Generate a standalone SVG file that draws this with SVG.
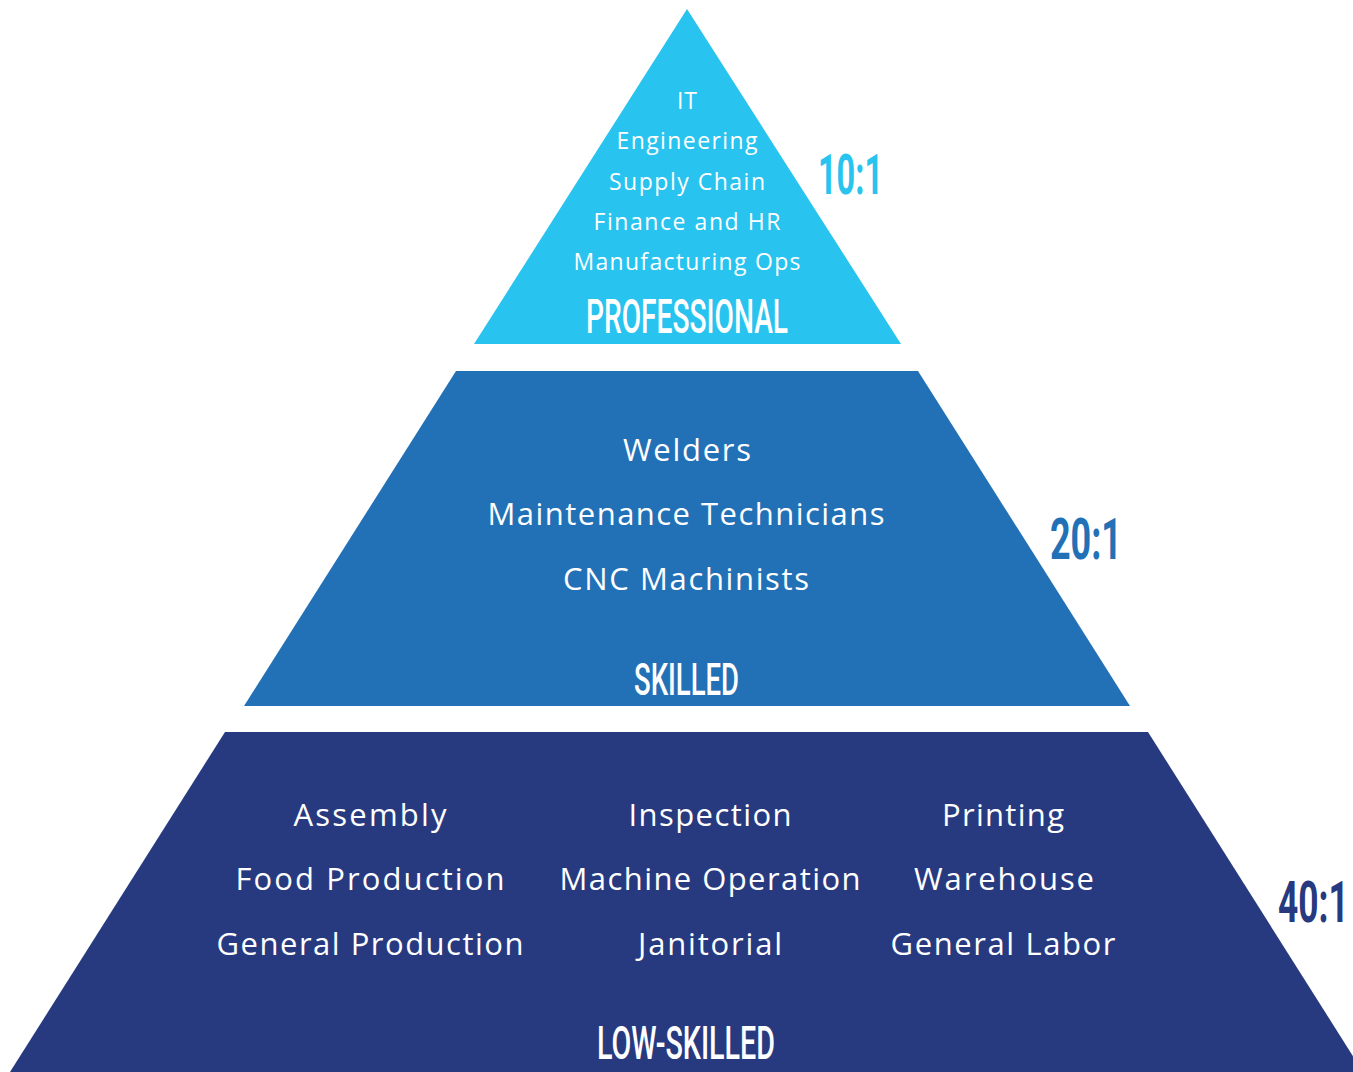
<svg xmlns="http://www.w3.org/2000/svg" width="1353" height="1072" viewBox="0 0 1353 1072">
  <style>
    .item { font-family: "Open Sans", "Noto Sans", "DejaVu Sans", sans-serif; fill: #ffffff; text-anchor: middle; }
    .item-sm { font-size: 23px; }
    .item-lg { font-size: 31px; }
    .head { font-family: "Roboto", "Liberation Sans", sans-serif; font-weight: 500; fill: #ffffff; }
    .ratio { font-family: "Roboto", "Liberation Sans", sans-serif; font-weight: 700; }
    .pro { fill: #28C3EF; }
    .skl { fill: #2271B7; }
    .low { fill: #273A80; }
  </style>

  <rect width="1353" height="1072" fill="#ffffff"/>

  <!-- Top tier -->
  <g id="tier-professional">
    <polygon class="pro" points="687,9 901,344 474,344"/>
    <text class="item item-sm" x="687" y="109" textLength="20" lengthAdjust="spacing">IT</text>
    <text class="item item-sm" x="687" y="149" textLength="141" lengthAdjust="spacing">Engineering</text>
    <text class="item item-sm" x="687" y="190" textLength="156" lengthAdjust="spacing">Supply Chain</text>
    <text class="item item-sm" x="687" y="230" textLength="187" lengthAdjust="spacing">Finance and HR</text>
    <text class="item item-sm" x="687" y="270" textLength="227" lengthAdjust="spacing">Manufacturing Ops</text>
    <text class="head" x="586" y="333" font-size="49" textLength="202" lengthAdjust="spacingAndGlyphs">PROFESSIONAL</text>
    <text class="ratio pro" x="818" y="194" font-size="55" textLength="65" lengthAdjust="spacingAndGlyphs">10:1</text>
  </g>

  <!-- Middle tier -->
  <g id="tier-skilled">
    <polygon class="skl" points="456,371 918,371 1130,706 244,706"/>
    <text class="item item-lg" x="687" y="461" textLength="128" lengthAdjust="spacing">Welders</text>
    <text class="item item-lg" x="686" y="525" textLength="397" lengthAdjust="spacing">Maintenance Technicians</text>
    <text class="item item-lg" x="686" y="590" textLength="246" lengthAdjust="spacing">CNC Machinists</text>
    <text class="head" x="634" y="695" font-size="45" textLength="105" lengthAdjust="spacingAndGlyphs">SKILLED</text>
    <text class="ratio skl" x="1050" y="559" font-size="57" textLength="72" lengthAdjust="spacingAndGlyphs">20:1</text>
  </g>

  <!-- Bottom tier -->
  <g id="tier-low-skilled">
    <polygon class="low" points="225,732 1148,732 1363,1072 10,1072"/>
    <text class="item item-lg" x="370" y="826" textLength="153" lengthAdjust="spacing">Assembly</text>
    <text class="item item-lg" x="370" y="890" textLength="269" lengthAdjust="spacing">Food Production</text>
    <text class="item item-lg" x="370" y="955" textLength="307" lengthAdjust="spacing">General Production</text>
    <text class="item item-lg" x="710" y="826" textLength="163" lengthAdjust="spacing">Inspection</text>
    <text class="item item-lg" x="710" y="890" textLength="301" lengthAdjust="spacing">Machine Operation</text>
    <text class="item item-lg" x="710" y="955" textLength="144" lengthAdjust="spacing">Janitorial</text>
    <text class="item item-lg" x="1003" y="826" textLength="122" lengthAdjust="spacing">Printing</text>
    <text class="item item-lg" x="1004" y="890" textLength="180" lengthAdjust="spacing">Warehouse</text>
    <text class="item item-lg" x="1003" y="955" textLength="225" lengthAdjust="spacing">General Labor</text>
    <text class="head" x="597" y="1059" font-size="47" textLength="178" lengthAdjust="spacingAndGlyphs">LOW-SKILLED</text>
    <!-- horizontally compressed so the label sits inside the right edge -->
    <text class="ratio low" transform="translate(1278,922) scale(0.62,1)" font-size="57">40:1</text>
  </g>

  <!-- no connectors in this figure -->
  <g id="connectors"/>
</svg>
